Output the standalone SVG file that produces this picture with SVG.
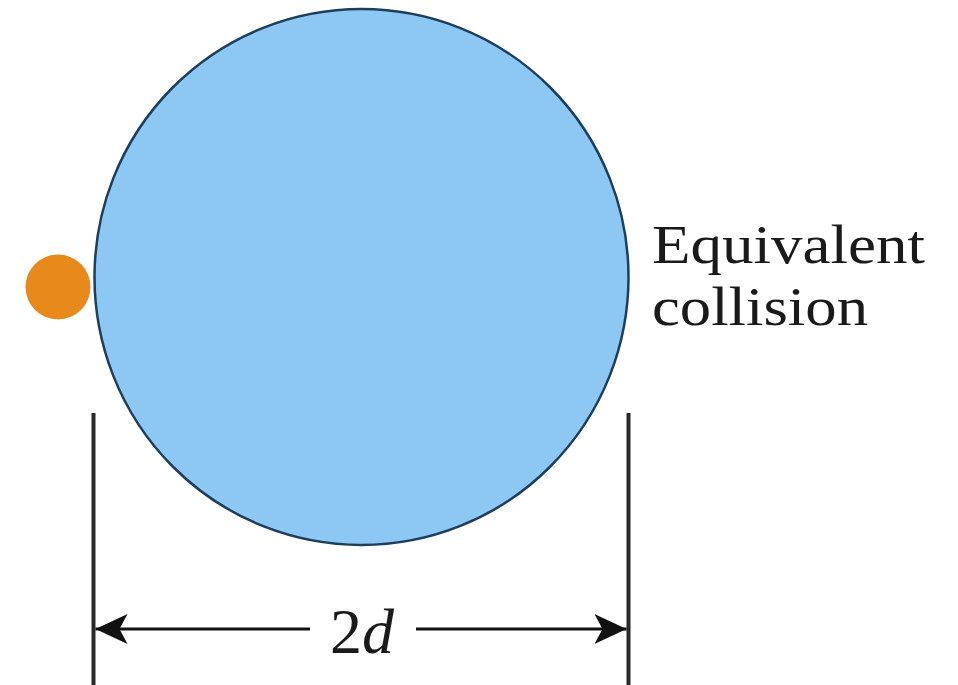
<svg xmlns="http://www.w3.org/2000/svg" width="958" height="685" viewBox="0 0 958 685">
<defs>
<style>
.dim{stroke:#2a2a2a;stroke-width:4;fill:none}
.arr{stroke:#111;stroke-width:3;fill:none}
.lbl{font-family:"Liberation Serif","DejaVu Serif",serif;fill:#1a1a1a}
</style>
<marker id="ah" viewBox="0 0 32 30" refX="32" refY="15" markerWidth="32" markerHeight="30" markerUnits="userSpaceOnUse" orient="auto-start-reverse">
<path d="M0,0 L32,15 L0,30 L8,15 Z" fill="#111"/>
</marker>
</defs>
<rect width="958" height="685" fill="#fff"/>
<g id="target">
<ellipse cx="361.5" cy="277" rx="267" ry="268" fill="#8DC8F4" stroke="#1d3f5c" stroke-width="2.5"/>
</g>
<g id="projectile">
<circle cx="58" cy="287" r="32.5" fill="#E8891B"/>
</g>
<g id="label">
<text class="lbl" x="652" y="263" font-size="55" textLength="273" lengthAdjust="spacingAndGlyphs">Equivalent</text>
<text class="lbl" x="652" y="325" font-size="55" textLength="216" lengthAdjust="spacingAndGlyphs">collision</text>
</g>
<g id="connectors">
<line class="dim" x1="93.5" y1="413" x2="93.5" y2="685"/>
<line class="dim" x1="628.5" y1="413" x2="628.5" y2="685"/>
<line class="arr" x1="310" y1="629" x2="95.5" y2="629" marker-end="url(#ah)"/>
<line class="arr" x1="416" y1="629" x2="626.5" y2="629" marker-end="url(#ah)"/>
</g>
<g id="dimension-label">
<text class="lbl" x="330" y="653" font-size="64">2<tspan font-style="italic">d</tspan></text>
</g>
</svg>
